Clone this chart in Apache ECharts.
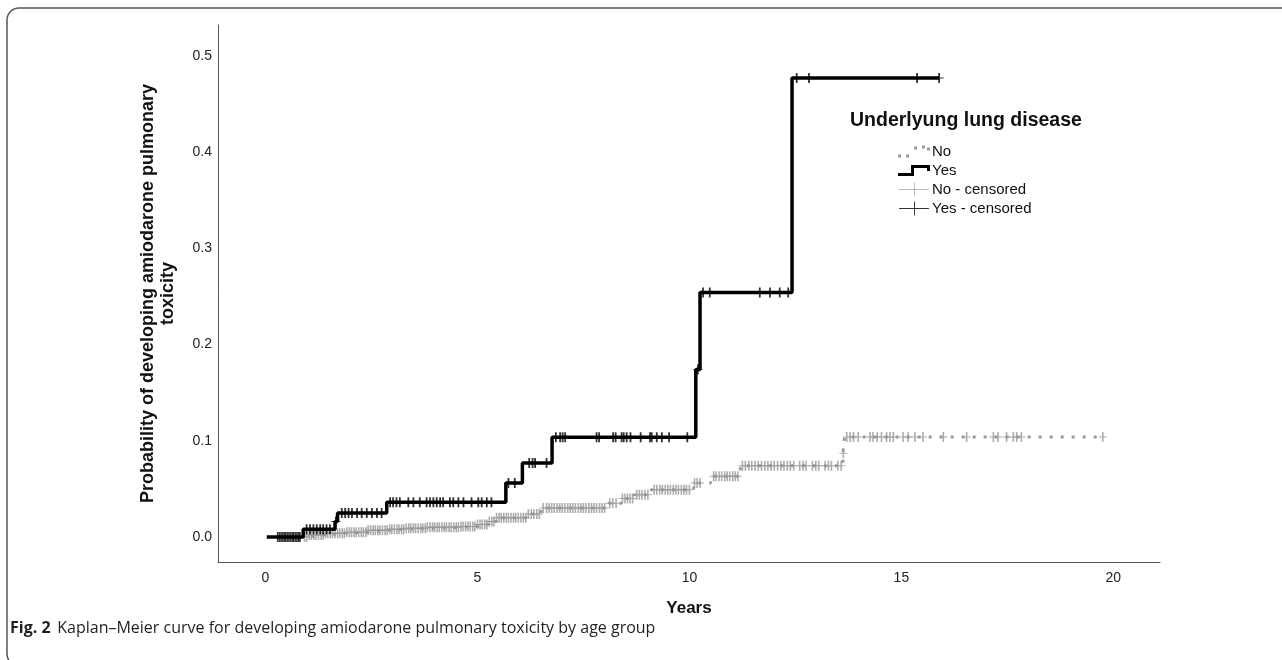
<!DOCTYPE html>
<html><head><meta charset="utf-8">
<script src="https://cdn.jsdelivr.net/npm/echarts@6/dist/echarts.min.js"></script>
<style>html,body{margin:0;padding:0;background:#fff;}#chart{width:1282px;height:660px;}</style>
</head><body><div id="chart"></div>
<script>
// Kaplan–Meier step curves (years, cumulative probability)
const yesTimes = [0.03, 0.89, 1.64, 1.70, 2.86, 5.67, 6.06, 6.76, 10.15, 10.25, 12.42, 15.89];
const yesProbs = [0, 0.008, 0.016, 0.025, 0.036, 0.056, 0.077, 0.1035, 0.174, 0.254, 0.477, 0.477];

const noTimes = [0.30, 1.00, 1.40, 1.90, 2.40, 2.90, 3.30, 3.80, 4.60, 5.00, 5.25, 5.45, 6.20, 6.50, 8.10, 8.40, 8.70, 9.10, 10.10, 10.50, 11.20, 13.62, 13.66, 19.75];
const noProbs = [0, 0.002, 0.004, 0.005, 0.007, 0.008, 0.009, 0.010, 0.011, 0.013, 0.016, 0.020, 0.024, 0.030, 0.035, 0.040, 0.044, 0.049, 0.056, 0.063, 0.074, 0.087, 0.104, 0.104];

// Censoring times
const yesCensored = [0.29, 0.34, 0.39, 0.44, 0.48, 0.53, 0.58, 0.63, 0.67, 0.72, 0.77, 0.81,
  0.97, 1.05, 1.13, 1.21, 1.29, 1.36, 1.44, 1.52, 1.66,
  1.80, 1.88, 1.96, 2.04, 2.16, 2.27, 2.39, 2.51, 2.63, 2.74,
  2.94, 3.01, 3.09, 3.17, 3.37, 3.49, 3.64, 3.80, 3.88, 3.96, 4.04, 4.12, 4.19, 4.35, 4.43, 4.55, 4.67, 4.86, 5.02, 5.10, 5.22, 5.33,
  5.73, 5.88, 6.22, 6.30, 6.36, 6.63,
  6.85, 6.95, 7.01, 7.07, 7.81, 7.87, 8.20, 8.26, 8.40, 8.45, 8.52, 8.61, 8.85, 9.07, 9.11, 9.23, 9.35, 9.52, 9.95,
  10.20, 10.32, 10.48, 11.66, 11.90, 12.13, 12.33,
  12.53, 12.82, 15.37, 15.89];

const noCensored = [0.92, 0.97, 1.03, 1.08, 1.14, 1.19, 1.25, 1.31, 1.36, 1.42, 1.47, 1.53, 1.58, 1.64, 1.70, 1.75, 1.81, 1.86, 1.92, 1.98,
  2.03, 2.09, 2.14, 2.20, 2.26, 2.31, 2.37, 2.42, 2.48, 2.54, 2.59, 2.65, 2.70, 2.76, 2.82, 2.87, 2.93, 2.98,
  3.04, 3.10, 3.15, 3.21, 3.26, 3.32, 3.38, 3.43, 3.49, 3.54, 3.60, 3.66, 3.71, 3.77, 3.82, 3.88, 3.94, 3.99,
  4.05, 4.10, 4.16, 4.22, 4.27, 4.33, 4.38, 4.44, 4.50, 4.55, 4.61, 4.66, 4.72, 4.78, 4.83, 4.89, 4.94,
  5.00, 5.06, 5.11, 5.17, 5.22, 5.28, 5.34, 5.39, 5.45, 5.51, 5.56, 5.62, 5.68, 5.73, 5.79, 5.85, 5.90, 5.96,
  6.02, 6.08, 6.14, 6.20, 6.27, 6.33, 6.40, 6.46, 6.55, 6.63, 6.69, 6.75, 6.81, 6.88, 6.94,
  7.00, 7.06, 7.13, 7.19, 7.25, 7.31, 7.38, 7.44, 7.50, 7.56, 7.63, 7.69, 7.75, 7.81, 7.88, 7.94,
  8.00, 8.12, 8.19, 8.27, 8.42, 8.48, 8.54, 8.60, 8.66, 8.76, 8.82, 8.88, 8.95,
  9.02, 9.17, 9.23, 9.30, 9.36, 9.43, 9.49, 9.55, 9.62, 9.68, 9.74, 9.81, 9.87, 9.93,
  10.00, 10.12, 10.18, 10.25, 10.57, 10.63, 10.70, 10.76, 10.83, 10.89, 10.95, 11.02, 11.08, 11.14,
  11.25, 11.32, 11.40, 11.47, 11.55, 11.62, 11.70, 11.78, 11.85, 11.93, 12.00, 12.08, 12.16, 12.23, 12.31, 12.38, 12.46,
  12.60, 12.68, 12.75, 12.90, 12.98, 13.05, 13.20, 13.28, 13.35, 13.50, 13.58,
  13.63, 13.71, 13.79, 13.87, 13.98, 14.26, 14.33, 14.43, 14.53, 14.65, 14.73, 14.81, 15.04, 15.16, 15.32, 15.51, 15.99,
  16.54, 17.17, 17.28, 17.48, 17.64, 17.72, 17.83, 19.75];

const xTicks = [0, 5, 10, 15, 20];
const yTicks = [0, 0.1, 0.2, 0.3, 0.4, 0.5];

function stepValue(times, probs, t) {
  let p = probs[0];
  for (let i = 0; i < times.length; i++) { if (times[i] <= t) p = probs[i]; }
  return p;
}
const pairs = (ts, ps) => ts.map((t, i) => [t, ps[i]]);
const censorPts = (cs, ts, ps) => cs.map(t => [t, stepValue(ts, ps, t)]);

const PLUS = 'path://M4,0H6V10H4Z M0,4.5H10V5.5H0Z';
const ICON_NO = 'path://M0,10H3V13H0Z M8,10H11V13H8Z M16,2H19V5H16Z M24,1H27V4H24Z M29,3H32V6H29Z';
const ICON_YES = 'path://M0,9H13V1H32V7H29V4H16V12H0Z';
const ICON_CENS = 'path://M0,7H32V8H0Z M16,0H17V15H16Z';

const chart = echarts.init(document.getElementById('chart'));
chart.setOption({
  animation: false,
  backgroundColor: '#fff',
  grid: { left: 218, right: 122, top: 25, bottom: 98 },
  xAxis: {
    type: 'value', min: -1.12, max: 21.1,
    axisLine: { onZero: false, lineStyle: { color: '#555', width: 1 } },
    axisTick: { show: false }, splitLine: { show: false },
    axisLabel: { customValues: xTicks, fontSize: 14, color: '#222', margin: 9, fontFamily: 'Liberation Sans, Arial' },
    name: 'Years', nameLocation: 'middle', nameGap: 38,
    nameTextStyle: { fontWeight: 'bold', fontSize: 17, color: '#111', fontFamily: 'Liberation Sans, Arial' }
  },
  yAxis: {
    type: 'value', min: -0.026, max: 0.532,
    axisLine: { show: true, onZero: false, lineStyle: { color: '#555', width: 1 } },
    axisTick: { show: false }, splitLine: { show: false },
    axisLabel: { customValues: yTicks, formatter: v => v.toFixed(1), fontSize: 14, color: '#222', margin: 6, fontFamily: 'Liberation Sans, Arial' },
    name: 'Probability of developing amiodarone pulmonary\ntoxicity', nameLocation: 'middle', nameGap: 40, nameRotate: 90,
    nameTextStyle: { fontWeight: 'bold', fontSize: 18, color: '#111', lineHeight: 20, align: 'center', fontFamily: 'Liberation Sans, Arial' }
  },
  legend: {
    orient: 'vertical', left: 893, top: 139, itemWidth: 32, itemHeight: 14, itemGap: 4,
    textStyle: { fontSize: 15, color: '#111', fontFamily: 'Liberation Sans, Arial', padding: [0, 0, 0, -3] },
    data: [
      { name: 'No', icon: ICON_NO, itemStyle: { color: '#9a9a9a' } },
      { name: 'Yes', icon: ICON_YES, itemStyle: { color: '#000' } },
      { name: 'No - censored', icon: ICON_CENS, itemStyle: { color: '#aaa' } },
      { name: 'Yes - censored', icon: ICON_CENS, itemStyle: { color: '#000' } }
    ]
  },
  series: [
    { name: 'No', type: 'line', step: 'end', symbol: 'none', z: 2,
      data: pairs(noTimes, noProbs),
      lineStyle: { color: '#999', width: 3, type: [3, 8], cap: 'butt' }, itemStyle: { color: '#999' } },
    { name: 'No - censored', type: 'scatter', symbol: PLUS, symbolSize: [8, 10], z: 3,
      data: censorPts(noCensored, noTimes, noProbs), itemStyle: { color: '#999' } },
    { name: 'Yes', type: 'line', step: 'end', symbol: 'none', z: 4,
      data: pairs(yesTimes, yesProbs),
      lineStyle: { color: '#000', width: 3.5 }, itemStyle: { color: '#000' } },
    { name: 'Yes - censored', type: 'scatter', symbol: PLUS, symbolSize: [9, 10], z: 5,
      data: censorPts(yesCensored, yesTimes, yesProbs), itemStyle: { color: '#000' } }
  ],
  graphic: [
    { type: 'rect', silent: true, z: 100, shape: { x: 7, y: 8, width: 1320, height: 658, r: 12 },
      style: { fill: 'none', stroke: '#555', lineWidth: 1.5 } },
    { type: 'text', silent: true, left: 850, top: 111,
      style: { text: 'Underlyung lung disease', font: 'bold 19.5px "Liberation Sans", Arial', fill: '#111' } },
    { type: 'text', silent: true, left: 10, top: 620,
      style: { text: '{b|Fig. 2}  {n|Kaplan–Meier curve for developing amiodarone pulmonary toxicity by age group}',
        rich: {
          b: { fontWeight: 'bold', fontSize: 16, fontFamily: 'Open Sans', fill: '#231f20' },
          n: { fontSize: 16, fontFamily: 'Open Sans', fill: '#231f20' }
        } } }
  ]
});
</script></body></html>
